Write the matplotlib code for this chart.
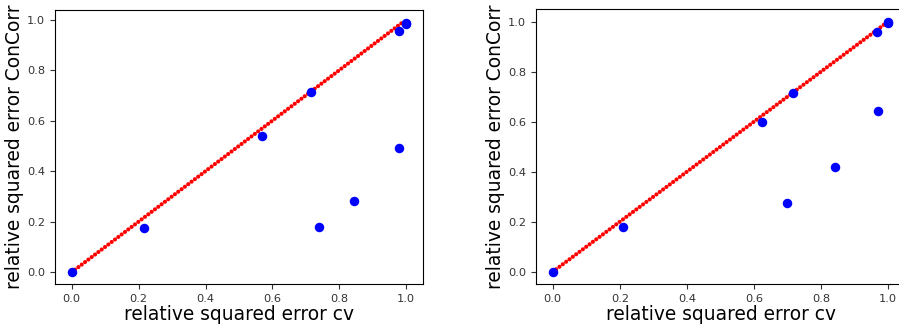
import matplotlib.pyplot as plt

# relative squared errors, left panel
cv_a = [0.0, 0.216, 0.569, 0.714, 0.738, 0.845, 0.979, 0.979, 1.0, 1.0]
cc_a = [0.0, 0.174, 0.540, 0.712, 0.179, 0.280, 0.490, 0.956, 0.987, 0.981]

# relative squared errors, right panel
cv_b = [0.0, 0.210, 0.623, 0.715, 0.697, 0.840, 0.971, 0.966, 1.0, 1.0]
cc_b = [0.0, 0.178, 0.597, 0.715, 0.276, 0.420, 0.643, 0.958, 1.0, 0.995]

diag = [0.0, 0.99]

fig = plt.figure(figsize=(8.99, 3.27), dpi=100)
ax1 = fig.add_axes([55 / 899, 1 - 284 / 327, 368 / 899, 274 / 327])
ax2 = fig.add_axes([536 / 899, 1 - 284 / 327, 369 / 899, 275 / 327])

for ax, cv, cc in [(ax1, cv_a, cc_a), (ax2, cv_b, cc_b)]:
    # y = x reference, drawn as a row of red dots
    ax.plot(diag, diag, color="red", lw=3.0,
            linestyle=(0, (0.001, 1.0)), dash_capstyle="round", zorder=2)
    ax.scatter(cv, cc, color="blue", s=34, zorder=3)
    ax.set_xlim(-0.05, 1.05)
    ax.set_xticks([0.0, 0.2, 0.4, 0.6, 0.8, 1.0])
    ax.set_yticks([0.0, 0.2, 0.4, 0.6, 0.8, 1.0])
    ax.tick_params(labelsize=8.2, colors="#333333")
    ax.set_xlabel("relative squared error cv", fontsize=13.4, labelpad=1)
    ax.set_ylabel("relative squared error ConCorr", fontsize=13.4, labelpad=2)

ax1.set_ylim(-0.047, 1.038)
ax2.set_ylim(-0.049, 1.05)

plt.savefig("out.png", dpi=100)
